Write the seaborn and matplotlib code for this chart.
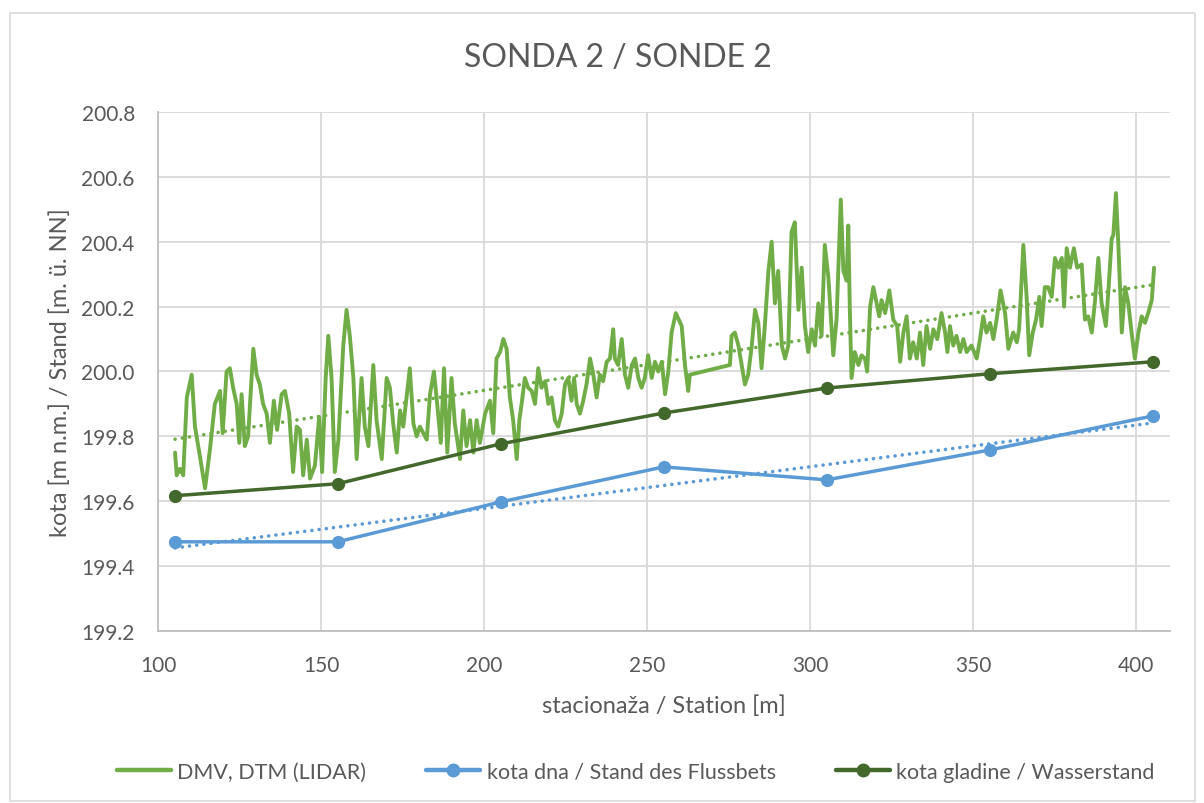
import numpy as np
import pandas as pd
import matplotlib
matplotlib.use("Agg")
import matplotlib.pyplot as plt
import seaborn as sns
from matplotlib.lines import Line2D
from matplotlib.patches import Rectangle

# DTM (LIDAR) profile
dtm_station = [
    105.1, 105.6, 106.6, 107.6, 108.7, 110.2, 111.2, 112.7, 114.3, 115.8,
    117.3, 118.9, 119.7, 120.9, 121.9, 122.9, 124.0, 124.8, 125.5, 126.5,
    127.5, 129.1, 130.1, 131.1, 132.1, 133.2, 134.2, 135.4, 136.4, 137.8,
    138.8, 140.1, 141.3, 142.4, 143.4, 144.4, 145.5, 146.5, 148.0, 149.3,
    150.2, 151.3, 152.1, 153.1, 154.1, 155.2, 156.7, 157.7, 158.7, 159.8,
    160.8, 162.3, 163.3, 164.4, 165.9, 166.9, 168.5, 170.0, 171.0, 172.0,
    173.1, 174.1, 175.1, 177.1, 178.2, 179.2, 180.2, 182.3, 183.3, 184.5,
    185.5, 186.6, 187.6, 188.6, 189.9, 190.9, 192.5, 193.5, 194.5, 195.6,
    196.6, 197.6, 198.6, 200.2, 201.7, 202.7, 203.7, 204.8, 205.8, 206.8,
    207.8, 208.8, 209.9, 210.7, 211.4, 212.4, 213.4, 214.5, 215.5, 216.5,
    217.5, 218.6, 219.6, 220.6, 221.6, 222.6, 223.7, 224.7, 225.7, 226.7,
    227.5, 228.3, 229.3, 230.3, 231.3, 232.4, 233.4, 234.4, 235.4, 236.4,
    237.5, 238.5, 239.5, 240.0, 241.0, 242.1, 243.1, 244.1, 245.2, 246.2,
    247.2, 248.2, 249.2, 250.2, 251.3, 252.3, 253.3, 254.4, 255.4, 256.4,
    257.4, 258.7, 260.5, 261.5, 262.5, 263.0, 275.3, 275.8, 276.8, 277.9,
    278.9, 279.9, 280.9, 282.0, 283.0, 284.0, 285.0, 286.0, 287.1, 288.1,
    289.1, 290.1, 291.2, 292.2, 293.2, 294.2, 295.2, 296.3, 297.3, 298.3,
    299.3, 300.4, 301.4, 302.4, 303.4, 304.4, 305.5, 307.0, 308.0, 309.3,
    310.1, 311.1, 311.6, 312.1, 312.6, 313.6, 314.7, 315.7, 316.7, 317.4,
    318.3, 319.3, 320.3, 321.1, 321.8, 322.9, 324.2, 325.4, 326.6, 327.5,
    328.5, 329.5, 330.5, 331.5, 332.6, 333.6, 334.6, 335.6, 336.7, 337.7,
    338.9, 340.2, 341.3, 342.0, 342.8, 343.8, 344.8, 345.9, 346.9, 347.9,
    349.4, 351.0, 352.0, 353.0, 354.0, 355.1, 356.1, 357.1, 358.3, 359.7,
    360.7, 362.2, 363.3, 364.0, 365.3, 366.3, 367.1, 368.2, 369.2, 370.2,
    370.9, 371.9, 372.9, 374.0, 375.0, 376.0, 377.1, 377.8, 378.6, 379.6,
    380.8, 381.8, 383.2, 384.2, 385.2, 386.3, 387.3, 388.3, 389.3, 390.6,
    391.4, 392.4, 392.9, 393.7, 394.4, 395.5, 396.5, 397.5, 398.5, 399.5,
    400.6, 401.6, 402.6, 403.6, 404.7, 405.4,
]
dtm_level = [
    199.75, 199.68, 199.70, 199.68, 199.92, 199.99, 199.83, 199.74, 199.64, 199.76,
    199.90, 199.94, 199.81, 200.00, 200.01, 199.95, 199.90, 199.78, 199.93, 199.77,
    199.80, 200.07, 199.99, 199.96, 199.90, 199.87, 199.78, 199.91, 199.82, 199.93,
    199.94, 199.87, 199.69, 199.83, 199.82, 199.68, 199.79, 199.67, 199.71, 199.86,
    199.69, 199.98, 200.11, 199.98, 199.69, 199.79, 200.08, 200.19, 200.11, 199.98,
    199.73, 199.98, 199.83, 199.77, 200.02, 199.85, 199.73, 199.98, 199.95, 199.84,
    199.75, 199.88, 199.83, 200.01, 199.84, 199.80, 199.83, 199.79, 199.93, 200.00,
    199.90, 199.78, 200.01, 199.75, 199.98, 199.84, 199.73, 199.88, 199.77, 199.85,
    199.75, 199.85, 199.78, 199.87, 199.91, 199.81, 200.04, 200.06, 200.10, 200.07,
    199.92, 199.85, 199.73, 199.85, 199.90, 199.98, 199.95, 199.94, 199.90, 200.01,
    199.95, 199.97, 199.90, 199.92, 199.85, 199.83, 199.87, 199.96, 199.98, 199.91,
    199.98, 199.90, 199.87, 199.91, 199.96, 200.04, 199.99, 199.92, 199.99, 199.97,
    200.03, 200.04, 200.13, 200.04, 200.02, 200.10, 199.99, 199.95, 200.02, 200.04,
    199.98, 199.95, 199.98, 200.05, 199.98, 200.03, 200.00, 200.03, 199.93, 200.00,
    200.12, 200.18, 200.14, 200.02, 199.94, 199.99, 200.02, 200.11, 200.12, 200.08,
    200.02, 199.96, 199.99, 200.08, 200.19, 200.15, 200.01, 200.14, 200.31, 200.40,
    200.21, 200.31, 200.08, 200.04, 200.08, 200.43, 200.46, 200.19, 200.32, 200.14,
    200.06, 200.13, 200.08, 200.21, 200.11, 200.39, 200.29, 200.05, 200.16, 200.53,
    200.31, 200.28, 200.45, 200.18, 199.98, 200.06, 200.02, 200.05, 200.04, 200.00,
    200.20, 200.26, 200.21, 200.17, 200.22, 200.18, 200.25, 200.16, 200.14, 200.03,
    200.12, 200.17, 200.04, 200.09, 200.04, 200.12, 200.02, 200.14, 200.07, 200.13,
    200.10, 200.18, 200.12, 200.06, 200.14, 200.08, 200.11, 200.06, 200.10, 200.06,
    200.08, 200.04, 200.10, 200.17, 200.12, 200.15, 200.10, 200.16, 200.25, 200.18,
    200.07, 200.12, 200.09, 200.13, 200.39, 200.23, 200.05, 200.12, 200.16, 200.23,
    200.14, 200.26, 200.26, 200.23, 200.35, 200.32, 200.35, 200.20, 200.38, 200.32,
    200.38, 200.32, 200.33, 200.16, 200.17, 200.12, 200.22, 200.35, 200.21, 200.14,
    200.25, 200.41, 200.42, 200.55, 200.40, 200.12, 200.26, 200.21, 200.12, 200.04,
    200.12, 200.17, 200.15, 200.18, 200.22, 200.32,
]

# cross-section stations and levels
profile_station = [105, 155, 205, 255, 305, 355, 405]
bed_level = [199.475, 199.475, 199.598, 199.706, 199.666, 199.758, 199.863]
water_level = [199.617, 199.654, 199.777, 199.872, 199.949, 199.993, 200.030]

labels = ["DMV, DTM (LIDAR)", "kota dna / Stand des Flussbets", "kota gladine / Wasserstand"]
green = "#70AD47"
blue = "#5B9BD5"
dark_green = "#43682B"
text_col = "#595959"

sns.set_style("white")
plt.rcParams["font.family"] = ["Lato", "DejaVu Sans"]

dtm = pd.DataFrame({"station": dtm_station, "level": dtm_level})
prof = pd.DataFrame({"station": profile_station, "bed": bed_level, "water": water_level})

fig = plt.figure(figsize=(12.04, 8.04), dpi=100)
ax = fig.add_axes([0.1316, 0.2139, 0.9718 - 0.1316, 0.8595 - 0.2139])

# linear trendlines (like Excel)
x_tr = np.array([min(dtm_station), max(dtm_station)])
k1, b1 = np.polyfit(dtm["station"], dtm["level"], 1)
k2, b2 = np.polyfit(prof["station"], prof["bed"], 1)
dotted = (0, (0.01, 2.0))

sns.lineplot(data=dtm, x="station", y="level", sort=False, estimator=None,
             color=green, linewidth=2.8, ax=ax, zorder=3)
sns.lineplot(x=x_tr, y=k1 * x_tr + b1, color=green, linewidth=2.6,
             linestyle=dotted, dash_capstyle="round", ax=ax, zorder=4)
sns.lineplot(x=x_tr, y=k2 * x_tr + b2, color=blue, linewidth=2.6,
             linestyle=dotted, dash_capstyle="round", ax=ax, zorder=4)
sns.lineplot(data=prof, x="station", y="bed", color=blue, linewidth=2.5,
             marker="o", markersize=9.5, markeredgewidth=0, ax=ax, zorder=5)
sns.lineplot(data=prof, x="station", y="water", color=dark_green, linewidth=2.5,
             marker="o", markersize=9.5, markeredgewidth=0, ax=ax, zorder=5)

ax.set_xlim(100, 410.3)
ax.set_ylim(199.2, 200.8)
ax.set_xticks(np.arange(100, 401, 50))
ax.set_yticks(np.arange(199.2, 200.81, 0.2))
ax.set_yticklabels([f"{v:.1f}" for v in np.arange(199.2, 200.81, 0.2)])
ax.grid(True, color="#D9D9D9", linewidth=1.3)
ax.set_axisbelow(True)
for side in ["top", "right"]:
    ax.spines[side].set_visible(False)
for side in ["left", "bottom"]:
    ax.spines[side].set_color("#BFBFBF")
    ax.spines[side].set_linewidth(1.3)
ax.tick_params(axis="both", length=0, labelsize=15, colors=text_col, pad=17)

ax.set_xlabel("stacionaža / Station [m]", fontsize=17, color=text_col)
ax.set_ylabel("kota [m n.m.] / Stand [m. ü. NN]", fontsize=17, color=text_col)
ax.xaxis.set_label_coords(0.5, -0.122)
ax.yaxis.set_label_coords(-0.086, 0.5)
fig.text(0.513, 1 - 58 / 804, "SONDA 2 / SONDE 2", ha="center", va="center",
         fontsize=23, color=text_col)

handles = [
    Line2D([], [], color=green, linewidth=3.2),
    Line2D([], [], color=blue, linewidth=3.2, marker="o", markersize=10, markeredgewidth=0),
    Line2D([], [], color=dark_green, linewidth=3.2, marker="o", markersize=10, markeredgewidth=0),
]
fig.legend(handles, labels, loc="center", bbox_to_anchor=(0.528, 1 - 773 / 804), ncol=3,
           frameon=False, fontsize=15.5, handlelength=2.5, handletextpad=0.3,
           columnspacing=2.8, labelcolor=text_col)

# chart border
fig.patches.append(Rectangle((10 / 1204, 2 / 804), 1185 / 1204, 788 / 804,
                             transform=fig.transFigure, fill=False,
                             edgecolor="#D9D9D9", linewidth=1.2))

fig.savefig("out.png", dpi=100)
